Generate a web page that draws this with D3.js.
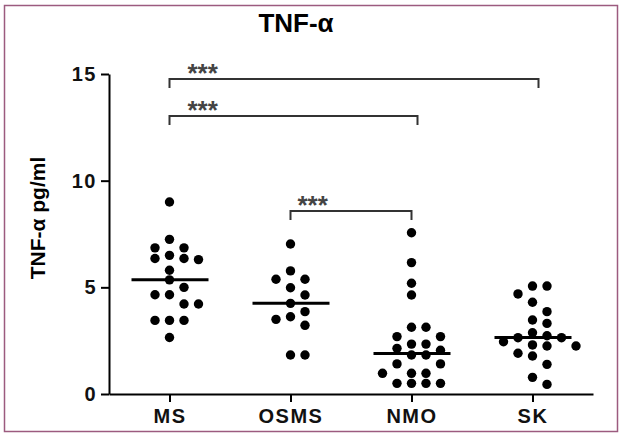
<!DOCTYPE html>
<html>
<head>
<meta charset="utf-8">
<script src="https://cdn.jsdelivr.net/npm/d3@7"></script>
<style>
  body { margin: 0; background: #fff; }
  svg { display: block; font-family: "Liberation Sans", Arial, sans-serif; }
</style>
</head>
<body>
<div id="chart"></div>
<script>
// groups on the x axis
var groups = ["MS", "OSMS", "NMO", "SK"];

// TNF-alpha values per group (pg/ml)
var msValues = [9.0, 7.25, 6.85, 6.85, 6.5, 6.35, 6.35, 6.3, 5.8, 5.35, 5.0, 4.65, 4.65, 4.22, 4.22, 3.45, 3.45, 3.45, 2.65];
var osmsValues = [7.03, 5.77, 5.38, 5.38, 4.98, 4.64, 4.25, 3.86, 3.62, 3.5, 3.22, 1.83, 1.83];
var nmoValues = [7.56, 6.16, 5.19, 4.64, 3.13, 3.13, 2.69, 2.69, 2.34, 2.34, 2.14, 2.05, 1.83, 1.83, 1.41, 1.41, 0.97, 0.97, 0.97, 0.5, 0.5, 0.5, 0.5];
var skValues = [5.06, 5.06, 4.69, 4.3, 3.86, 3.47, 3.31, 2.87, 2.73, 2.64, 2.64, 2.45, 2.3, 2.25, 2.25, 1.91, 1.78, 1.39, 0.78, 0.45];

// medians drawn as horizontal bars
var medians = [5.35, 4.25, 1.9, 2.65];

// y axis ticks
var yTicks = [0, 5, 10, 15];

// significance brackets: from, to, level in pg/ml, label
var compFrom = ["MS", "MS", "OSMS"];
var compTo = ["SK", "NMO", "NMO"];
var compLevel = [14.77, 13.03, 8.58];
var compLabel = ["***", "***", "***"];

var values = [msValues, osmsValues, nmoValues, skValues];

var W = 620, H = 434;

var svg = d3.select("#chart")
  .append("svg")
  .attr("width", W)
  .attr("height", H);

// frame
svg.append("rect")
  .attr("x", 4.5).attr("y", 5.5)
  .attr("width", 613).attr("height", 426)
  .attr("fill", "none")
  .attr("stroke", "#9c5b7f")
  .attr("stroke-width", 1.5);

var x = d3.scalePoint()
  .domain(groups)
  .range([109, 593])
  .padding(0.5);

var y = d3.scaleLinear()
  .domain([0, 15])
  .range([394, 74]);

// title
svg.append("text")
  .attr("x", 296)
  .attr("y", 32)
  .attr("text-anchor", "middle")
  .style("font-size", "26px")
  .style("font-weight", "bold")
  .text("TNF-α");

// y axis
var yAxis = svg.append("g")
  .attr("transform", "translate(109,0)")
  .call(d3.axisLeft(y).tickValues(yTicks).tickSize(8).tickSizeOuter(0).tickPadding(4));

// x axis
var xAxis = svg.append("g")
  .attr("transform", "translate(0,394)")
  .call(d3.axisBottom(x).tickSize(8).tickSizeOuter(0).tickPadding(7));

[yAxis, xAxis].forEach(function(a) {
  a.select(".domain").attr("stroke", "#000").attr("stroke-width", 2);
  a.selectAll(".tick line").attr("stroke", "#000").attr("stroke-width", 2);
  a.selectAll(".tick text")
    .attr("fill", "#111")
    .style("font-size", "20px")
    .style("font-weight", "bold")
    .style("letter-spacing", "1.5px")
    .style("font-family", "'Liberation Sans', Arial, sans-serif");
});

// y axis title
svg.append("text")
  .attr("transform", "translate(45,218) rotate(-90)")
  .attr("text-anchor", "middle")
  .style("font-size", "21px")
  .style("font-weight", "bold")
  .text("TNF-α pg/ml");

// grid beeswarm: each dot takes the first free column 0, +s, -s, +2s, -2s ...
function swarm(vals, cx) {
  var s = 14.5, dyMin = 9.5;
  var sorted = vals.slice().sort(function(a, b) { return b - a; });
  var placed = [];
  sorted.forEach(function(v) {
    var py = y(v);
    for (var k = 0; k < 20; k++) {
      var col = (k % 2 === 1 ? 1 : -1) * Math.ceil(k / 2);
      var px = cx + col * s;
      var hit = placed.some(function(p) {
        return Math.abs(p.x - px) < 1 && Math.abs(p.y - py) < dyMin;
      });
      if (!hit) { placed.push({ x: px, y: py }); break; }
    }
  });
  return placed;
}

var pts = [];
groups.forEach(function(g, gi) {
  pts = pts.concat(swarm(values[gi], x(g)));
});

svg.append("g")
  .selectAll("circle")
  .data(pts)
  .enter()
  .append("circle")
  .attr("cx", function(d) { return d.x; })
  .attr("cy", function(d) { return d.y; })
  .attr("r", 4.7)
  .attr("fill", "#000");

// median bars
svg.append("g")
  .selectAll("line")
  .data(groups)
  .enter()
  .append("line")
  .attr("x1", function(g) { return x(g) - 38; })
  .attr("x2", function(g) { return x(g) + 39; })
  .attr("y1", function(g, i) { return y(medians[i]); })
  .attr("y2", function(g, i) { return y(medians[i]); })
  .attr("stroke", "#000")
  .attr("stroke-width", 3);

// significance brackets
var labelShift = [18, 18, 7];
var comps = compFrom.map(function(f, i) {
  return {
    x1: x(f),
    x2: x(compTo[i]) + (f === "MS" ? 6 : 0),
    y: y(compLevel[i]),
    label: compLabel[i],
    shift: labelShift[i]
  };
});

var br = svg.append("g").selectAll("g")
  .data(comps)
  .enter()
  .append("g");

br.append("path")
  .attr("d", function(d) {
    return "M" + d.x1 + "," + (d.y + 9) + "V" + d.y + "H" + d.x2 + "V" + (d.y + 9);
  })
  .attr("fill", "none")
  .attr("stroke", "#333")
  .attr("stroke-width", 2);

br.append("text")
  .attr("x", function(d) { return d.x1 + d.shift; })
  .attr("y", function(d) { return d.y + 3; })
  .attr("fill", "#444")
  .style("font-size", "26px")
  .style("font-weight", "bold")
  .text(function(d) { return d.label; });
</script>
</body>
</html>
